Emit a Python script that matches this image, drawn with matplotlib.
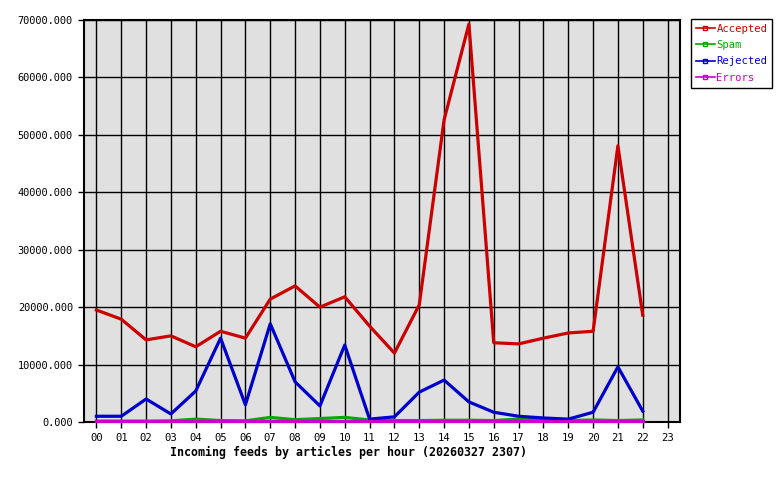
import matplotlib
matplotlib.use("Agg")
import matplotlib.pyplot as plt
from matplotlib.lines import Line2D

# Data (hourly counts)
hours = list(range(24))
hour_labels = [f"{h:02d}" for h in hours]

accepted = [19500, 17900, 14300, 15000, 13100, 15800, 14600, 21400, 23700, 20000,
            21800, 16700, 12000, 20400, 52600, 69300, 13800, 13600, 14600, 15500,
            15800, 48100, 18600]
spam = [150, 150, 150, 200, 500, 250, 200, 800, 400, 600, 800, 350,
        250, 250, 300, 300, 250, 500, 350, 250, 350, 250, 350]
rejected = [1000, 1000, 4000, 1400, 5400, 14600, 3000, 17100, 7000, 2800,
            13400, 500, 900, 5200, 7300, 3500, 1700, 1000, 700, 500,
            1700, 9600, 1900]
errors = [120] * 23

series = [
    ("Accepted", accepted, "#cc0000"),
    ("Spam", spam, "#00aa00"),
    ("Rejected", rejected, "#0000cc"),
    ("Errors", errors, "#cc00cc"),
]

mono = "DejaVu Sans Mono"

fig = plt.figure(figsize=(7.8, 4.8), dpi=100)
ax = fig.add_axes([84 / 780, 1 - 422 / 480, 596 / 780, 402 / 480])
ax.set_facecolor("#e0e0e0")

for name, vals, col in series:
    ax.plot(hours[:len(vals)], vals, color=col, linewidth=2.3, zorder=3,
            clip_on=False)

ax.set_xlim(-0.5, 23.5)
ax.set_ylim(0, 70000)
ax.set_xticks(hours)
ax.set_xticklabels(hour_labels, fontfamily=mono, fontsize=7.6)
ax.set_yticks(range(0, 70001, 10000))
ax.set_yticklabels([f"{v:.3f}" for v in range(0, 70001, 10000)],
                   fontfamily=mono, fontsize=7.4)
ax.tick_params(direction="out", length=4, width=1, color="black", pad=4)
ax.grid(True, color="black", linewidth=1, zorder=1)
ax.set_axisbelow(True)
for sp in ax.spines.values():
    sp.set_linewidth(1.5)

fig.text(348 / 780, 1 - 452 / 480, "Incoming feeds by articles per hour (20260327 2307)",
         ha="center", va="center", fontfamily=mono, fontsize=8.4, fontweight="bold")

handles = [Line2D([0], [0], color=col, linewidth=1.2, marker="s", markersize=3,
                  markerfacecolor="none", markeredgecolor=col)
           for _, _, col in series]
leg = fig.legend(handles, [s[0] for s in series], loc="upper left",
                 bbox_to_anchor=(691 / 780, 1 - 19 / 480),
                 prop={"family": mono, "size": 7.6}, labelcolor="linecolor",
                 fancybox=False, edgecolor="black", framealpha=1,
                 handlelength=1.8, handletextpad=0.15, borderpad=0.45,
                 labelspacing=0.6, borderaxespad=0)
leg.get_frame().set_linewidth(1)

fig.savefig("out.png", dpi=100)
